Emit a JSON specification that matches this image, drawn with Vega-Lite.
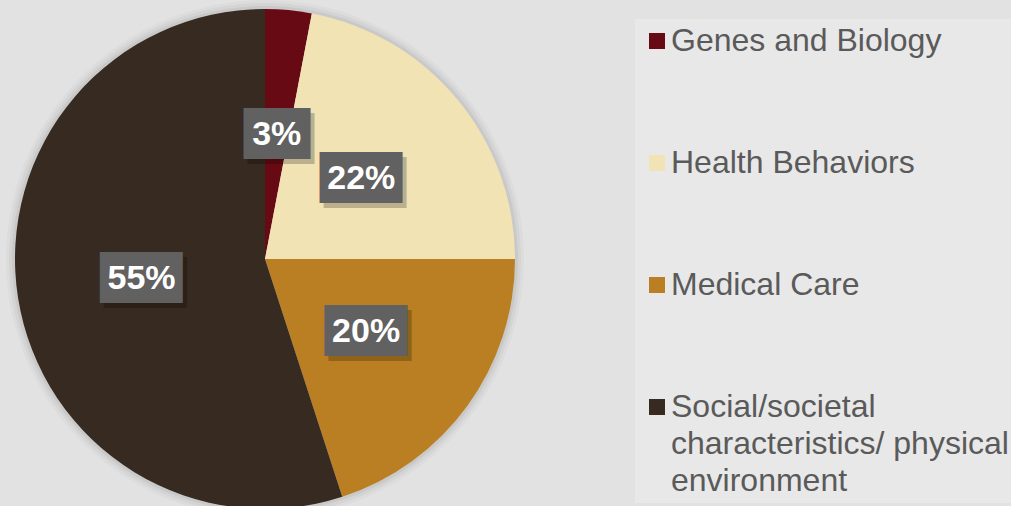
{
  "$schema": "https://vega.github.io/schema/vega-lite/v6.json",
  "width": 500,
  "height": 500,
  "padding": {"left": 6, "top": 0, "right": 0, "bottom": 0},
  "background": "#e2e2e2",
  "config": {"view": {"stroke": null}},
  "data": {
    "values": [
      {"category": "Genes and Biology", "value": 3, "pct": "3%"},
      {"category": "Health Behaviors", "value": 22, "pct": "22%"},
      {"category": "Medical Care", "value": 20, "pct": "20%"},
      {"category": "Social/societal characteristics/ physical environment", "value": 55, "pct": "55%"}
    ]
  },
  "encoding": {
    "theta": {"field": "value", "type": "quantitative", "stack": true},
    "order": {"field": "category", "type": "ordinal", "sort": "ascending"}
  },
  "layer": [
    {"mark": {"type": "arc", "outerRadius": 259, "fill": "#000000", "opacity": 0.025}},
    {"mark": {"type": "arc", "outerRadius": 256, "fill": "#000000", "opacity": 0.035}},
    {"mark": {"type": "arc", "outerRadius": 253, "fill": "#000000", "opacity": 0.05}},
    {
      "mark": {"type": "arc", "outerRadius": 250},
      "encoding": {
        "color": {
          "field": "category",
          "type": "nominal",
          "scale": {
            "domain": ["Genes and Biology", "Health Behaviors", "Medical Care", "Social/societal characteristics/ physical environment"],
            "range": ["#670a13", "#f1e3b3", "#ba7f22", "#372a20"]
          },
          "legend": {
            "title": null,
            "orient": "none",
            "legendX": 620,
            "legendY": 10,
            "symbolType": "square",
            "symbolSize": 256,
            "symbolStrokeWidth": 0,
            "labelFont": "Liberation Sans",
            "labelFontSize": 32,
            "labelColor": "#5a5a5a",
            "labelOffset": -2,
            "labelLimit": 800,
            "rowPadding": 90,
            "padding": 6,
            "fillColor": "#e8e8e8",
            "labelExpr": "datum.label == 'Social/societal characteristics/ physical environment' ? ['Social/societal', 'characteristics/ physical', 'environment'] : datum.label",
            "encode": {"labels": {"update": {"lineHeight": {"value": 37}}}}
          }
        }
      }
    },
    {
      "mark": {"type": "text", "radius": 125, "font": "DejaVu Sans", "fontSize": 43, "fill": "#000000", "opacity": 0.22, "align": "center", "baseline": "middle", "text": {"expr": "datum.value < 10 ? '██' : '██▌'"}, "dx": {"expr": "datum.value < 10 ? 4 : 12"}, "dy": 5}
    },
    {
      "mark": {"type": "text", "radius": 125, "font": "DejaVu Sans", "fontSize": 43, "fill": "#616161", "align": "center", "baseline": "middle", "text": {"expr": "datum.value < 10 ? '██' : '██▌'"}, "dx": {"expr": "datum.value < 10 ? 0 : 8"}}
    },
    {
      "mark": {"type": "text", "radius": 125, "font": "Liberation Sans", "fontSize": 34, "fontWeight": "bold", "fill": "#ffffff", "align": "center", "baseline": "middle"},
      "encoding": {
        "text": {"field": "pct", "type": "nominal"}
      }
    }
  ]
}
